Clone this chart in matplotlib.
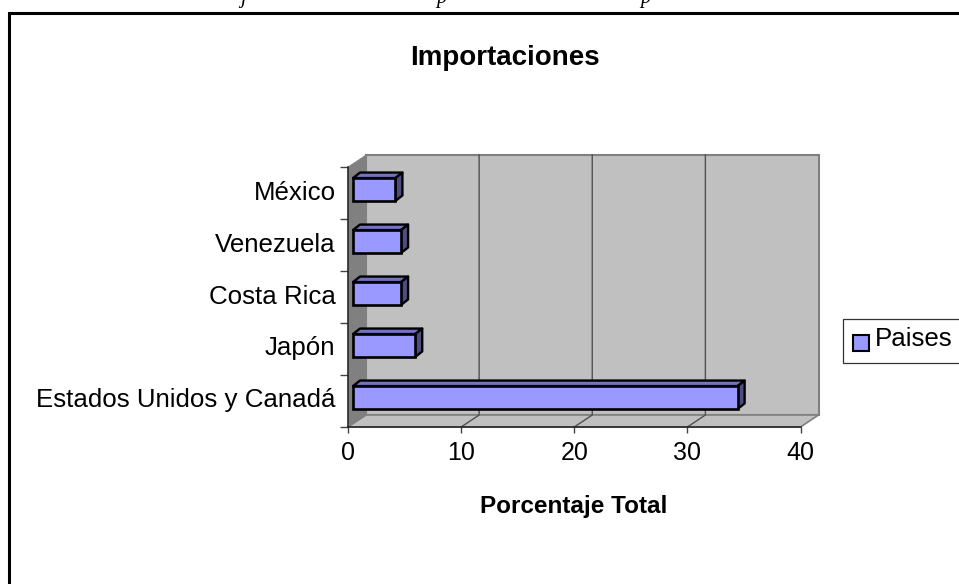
import matplotlib
matplotlib.use("Agg")
import matplotlib.pyplot as plt
from matplotlib.patches import Polygon, Rectangle
from matplotlib.lines import Line2D
from matplotlib.transforms import Affine2D, IdentityTransform

plt.rcParams['font.family'] = ['Liberation Sans', 'DejaVu Sans']

categories = ["Estados Unidos y Canadá", "Japón", "Costa Rica", "Venezuela", "México"]
values = [34.0, 5.5, 4.25, 4.25, 3.75]
xticks = [0, 10, 20, 30, 40]
series_name = "Paises"
title = "Importaciones"
xlabel = "Porcentaje Total"

W, H = 959, 584
fig = plt.figure(figsize=(W/100, H/100), dpi=100, facecolor='white')

def fx(x): return x / W
def fy(y): return 1 - y / H

x0, x1, ytop, ybot = 348, 800.5, 167, 427
ax = fig.add_axes([fx(x0), fy(ybot), (x1-x0)/W, (ybot-ytop)/H])
ax.set_xlim(0, 40)
ax.set_ylim(-0.5, len(categories) - 0.5)
ax.patch.set_visible(False)
for s in ('top', 'right'):
    ax.spines[s].set_visible(False)
for s in ('left', 'bottom'):
    ax.spines[s].set_color('#222222')
    ax.spines[s].set_linewidth(1.1)
    ax.spines[s].set_zorder(6)

DX, DY = 18, 12
T = ax.transData
to_disp = lambda x, y: tuple(T.transform((x, y)))

bl = to_disp(0, -0.5); tl = to_disp(0, len(categories)-0.5); br = to_disp(40, -0.5)
tr = to_disp(40, len(categories)-0.5)
off = lambda p, a=DX, b=DY: (p[0]+a, p[1]+b)
I = IdentityTransform()
ax.add_patch(Polygon([off(bl), off(tl), off(tr), off(br)], closed=True, fc='#C0C0C0', ec='#808080', lw=1.5, transform=I, clip_on=False, zorder=1))
ax.add_patch(Polygon([bl, off(bl), off(br), br], closed=True, fc='#C0C0C0', ec='#808080', lw=1.2, transform=I, clip_on=False, zorder=1))
ax.add_patch(Polygon([bl, tl, off(tl), off(bl)], closed=True, fc='#808080', ec='#808080', lw=0.5, transform=I, clip_on=False, zorder=1.5))

for v in xticks[1:-1]:
    f = to_disp(v, -0.5)
    b = off(f)
    t = off(to_disp(v, len(categories)-0.5))
    ax.add_line(Line2D([f[0], b[0], t[0]], [f[1], b[1], t[1]], color='#505050', lw=1.0, transform=I, clip_on=False, zorder=2))

BAR_H = 0.44
BX, BY = 5, 3.5
DBX, DBY = 7, 5.5
front = T + Affine2D().translate(BX, BY)
bars = ax.barh(range(len(values)), values, height=BAR_H, color='#9999FF', edgecolor='black',
               linewidth=1.9, transform=front, clip_on=False, zorder=5)
for i, v in enumerate(values):
    a = to_disp(0, i + BAR_H/2); b = to_disp(v, i + BAR_H/2); c = to_disp(v, i - BAR_H/2)
    a, b, c = off(a, BX, BY), off(b, BX, BY), off(c, BX, BY)
    ax.add_patch(Polygon([a, off(a, DBX, DBY), off(b, DBX, DBY), b], closed=True, fc='#7373BF', ec='black', lw=1.7,
                         joinstyle='round', transform=I, clip_on=False, zorder=4))
    ax.add_patch(Polygon([b, off(b, DBX, DBY), off(c, DBX, DBY), c], closed=True, fc='#4D4D80', ec='black', lw=1.7,
                         joinstyle='round', transform=I, clip_on=False, zorder=4))

ax.set_xticks(xticks)
ax.set_xticklabels([str(t) for t in xticks], fontsize=18, color='black')
ax.tick_params(axis='x', length=4.3, width=1.0, color='#444444', pad=5.5)
ax.set_yticks([i - 0.5 for i in range(len(categories)+1)])
ax.set_yticklabels([])
ax.tick_params(axis='y', which='major', length=5.5, width=1.0, color='#444444')
ax.set_yticks(range(len(categories)), minor=True)
ax.set_yticklabels(categories, minor=True, fontsize=18.6, color='black', va='center')
ax.tick_params(axis='y', which='minor', length=0, pad=9)
for l in ax.get_yticklabels(minor=True):
    l.set_transform(l.get_transform() + Affine2D().translate(0, 0.5))

fig.text(fx(504.5), fy(58), title, ha='center', va='center', fontsize=20, fontweight='bold')
fig.text(fx(574), fy(507), xlabel, ha='center', va='center', fontsize=17.5, fontweight='bold')

fig.add_artist(Line2D([fx(8.5), fx(8.5), 1], [0, fy(13), fy(13)], color='black', lw=2.2, solid_joinstyle='miter'))

fig.add_artist(Rectangle((fx(842.5), fy(362.5)), (W-842.5+10)/W, 44/H, transform=fig.transFigure, fc='white', ec='#333333', lw=0.9))
fig.add_artist(Rectangle((fx(852.5), fy(350.5)), 16/W, 16/H, transform=fig.transFigure, fc='#9999FF', ec='black', lw=1.5))
fig.text(fx(874.5), fy(339.5), series_name, ha='left', va='center', fontsize=18.6)

for px, ch in [(243, 'j'), (441, 'p'), (645, 'p')]:
    fig.text(fx(px), fy(-1.5), ch, ha='center', va='center', fontsize=15, style='italic',
             family=['Liberation Serif', 'DejaVu Serif'])

fig.savefig('out.png', dpi=100, facecolor='white')
